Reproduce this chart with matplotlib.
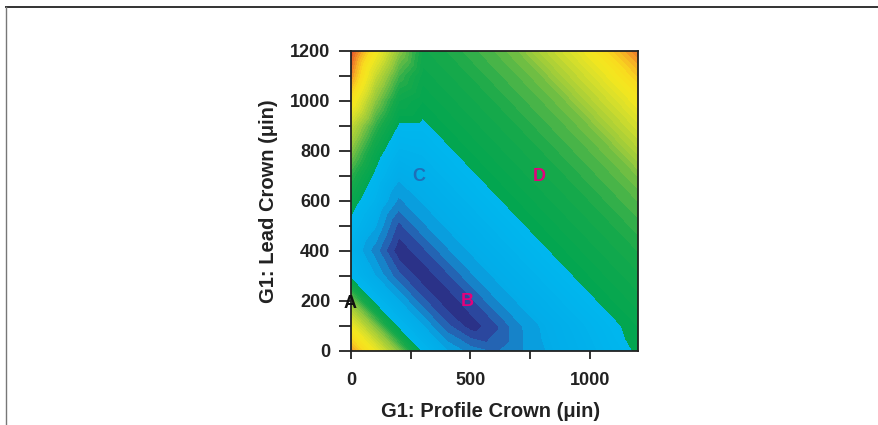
import numpy as np
import matplotlib
matplotlib.use("Agg")
import matplotlib.pyplot as plt
import matplotlib.tri as mtri
from matplotlib.colors import LinearSegmentedColormap
from matplotlib.lines import Line2D

# ==========================================
# Data
# ==========================================

# grid positions (micro-inch)
profile_crown = [0, 100, 200, 300, 400, 500, 600, 700, 800, 900, 1000, 1100, 1200]
lead_crown = [0, 100, 200, 300, 400, 500, 600, 700, 800, 900, 1000, 1100, 1200]

# surface level, one row per lead crown value (0 = deepest blue, 12 = red)
surface = [
    [11.3, 9.8, 8.0, 5.7, 4.0, 2.8, 2.2, 3.0, 3.9, 4.5, 5.0, 5.6, 6.1],
    [9.8, 8.0, 5.7, 4.0, 1.8, 0.3, 1.3, 3.0, 4.1, 4.7, 5.3, 5.9, 6.2],
    [8.0, 5.7, 4.0, 1.8, 0.2, 1.3, 3.0, 4.1, 4.7, 5.3, 5.9, 6.2, 6.5],
    [5.7, 4.0, 1.8, 0.2, 1.3, 3.0, 4.1, 4.7, 5.3, 5.9, 6.2, 6.5, 6.75],
    [5.0, 2.8, 0.2, 1.3, 3.0, 4.1, 4.7, 5.3, 5.9, 6.2, 6.5, 6.75, 7.0],
    [5.7, 4.1, 1.3, 3.0, 4.1, 4.7, 5.3, 5.9, 6.2, 6.5, 6.75, 7.0, 7.3],
    [6.45, 5.1, 3.0, 4.1, 4.7, 5.3, 5.9, 6.2, 6.5, 6.75, 7.0, 7.3, 7.6],
    [7.2, 5.8, 4.2, 4.7, 5.3, 5.9, 6.2, 6.5, 6.75, 7.0, 7.3, 7.6, 8.0],
    [8.1, 6.5, 5.1, 5.3, 5.9, 6.2, 6.5, 6.75, 7.0, 7.3, 7.6, 8.0, 8.7],
    [9.0, 7.3, 5.9, 5.9, 6.2, 6.5, 6.75, 7.0, 7.3, 7.6, 8.0, 8.7, 9.3],
    [10.3, 8.2, 6.6, 6.2, 6.5, 6.75, 7.0, 7.3, 7.6, 8.0, 8.7, 9.3, 10.0],
    [11.4, 9.1, 7.4, 6.5, 6.75, 7.0, 7.3, 7.6, 8.0, 8.7, 9.3, 10.0, 10.8],
    [12.0, 10.1, 8.2, 6.75, 7.0, 7.3, 7.6, 8.0, 8.7, 9.3, 10.0, 10.8, 11.6],
]

# point labels
point_names = ["A", "B", "C", "D"]
point_x = [-5, 487, 282, 788]
point_y = [190, 195, 696, 696]
point_colors = ["#111111", "#e4007c", "#1f6fb8", "#e4007c"]

# ==========================================
# Colour map
# ==========================================

cmap_nodes = [
    (0.0, "#2b2a7c"),
    (0.8, "#2b3a96"),
    (1.6, "#2a55a8"),
    (2.4, "#1d74bf"),
    (3.2, "#0f93d5"),
    (4.0, "#02abe8"),
    (5.9, "#00b6ee"),
    (6.0, "#00a651"),
    (7.0, "#17a94b"),
    (7.6, "#4fb648"),
    (8.2, "#8dc63f"),
    (8.8, "#b5d334"),
    (9.4, "#d9e02b"),
    (10.0, "#f3e71f"),
    (10.6, "#f8dc1e"),
    (11.2, "#f6aa26"),
    (12.0, "#e4502a"),
]
cmap = LinearSegmentedColormap.from_list(
    "crown", [(v / 12.0, c) for v, c in cmap_nodes]
)

# ==========================================
# Plot
# ==========================================

plt.rcParams["font.family"] = ["Liberation Sans", "DejaVu Sans"]
plt.rcParams["font.weight"] = "bold"

fig = plt.figure(figsize=(8.79, 4.25), dpi=100)
ax = fig.add_axes([0.3993, 0.1748, 0.3262, 0.7059])

# triangulate the grid along the anti-diagonal so the valley stays straight
nx = len(profile_crown)
ny = len(lead_crown)
X, Y = np.meshgrid(profile_crown, lead_crown)
Z = np.array(surface)
tris = []
for j in range(ny - 1):
    for i in range(nx - 1):
        a = j * nx + i
        b = a + 1
        c = a + nx
        d = c + 1
        tris.append([a, b, c])
        tris.append([b, d, c])
tri = mtri.Triangulation(X.ravel(), Y.ravel(), tris)

levels = np.concatenate([[0.0, 0.8, 1.6, 2.4, 3.2, 4.0],
                         np.arange(4.2, 12.01, 0.2)])
cs = ax.tricontourf(tri, Z.ravel(), levels=levels, cmap=cmap,
                    vmin=0, vmax=12)
cs.set_edgecolor("face")
cs.set_linewidth(0.3)

for name, px, py, col in zip(point_names, point_x, point_y, point_colors):
    ax.text(px, py, name, color=col, fontsize=13, fontweight="bold",
            ha="center", va="center")

ax.set_xlim(0, 1200)
ax.set_ylim(0, 1200)

ax.set_xticks([0, 250, 500, 750, 1000])
ax.set_xticklabels(["0", "", "500", "", "1000"])
ax.set_yticks([0, 200, 400, 600, 800, 1000, 1200])
ax.set_yticks(np.arange(100, 1200, 200), minor=True)

ax.tick_params(axis="x", direction="out", length=5.5, width=1.3,
               pad=10, labelsize=13, colors="#222222")
ax.tick_params(axis="y", which="both", direction="out", length=8.5,
               width=1.3, pad=6.5, labelsize=13, colors="#222222")

for spine in ax.spines.values():
    spine.set_linewidth(1.3)
    spine.set_color("#222222")

ax.text(0.488, -0.201, "G1: Profile Crown (\u03bcin)", transform=ax.transAxes,
        fontsize=14.5, fontweight="bold", ha="center", va="center",
        color="#222222")
ax.text(-0.287, 0.5, "G1: Lead Crown (\u03bcin)", transform=ax.transAxes,
        fontsize=14.5, fontweight="bold", ha="center", va="center",
        rotation=90, color="#222222")

# frame lines round the figure (top and left)
fig.add_artist(Line2D([6 / 879, 1.0], [1 - 7 / 425, 1 - 7 / 425],
                      color="#333333", lw=1.4))
fig.add_artist(Line2D([6 / 879, 6 / 879], [0.0, 1 - 7 / 425],
                      color="#777777", lw=1.0))

fig.savefig("out.png", dpi=100)
